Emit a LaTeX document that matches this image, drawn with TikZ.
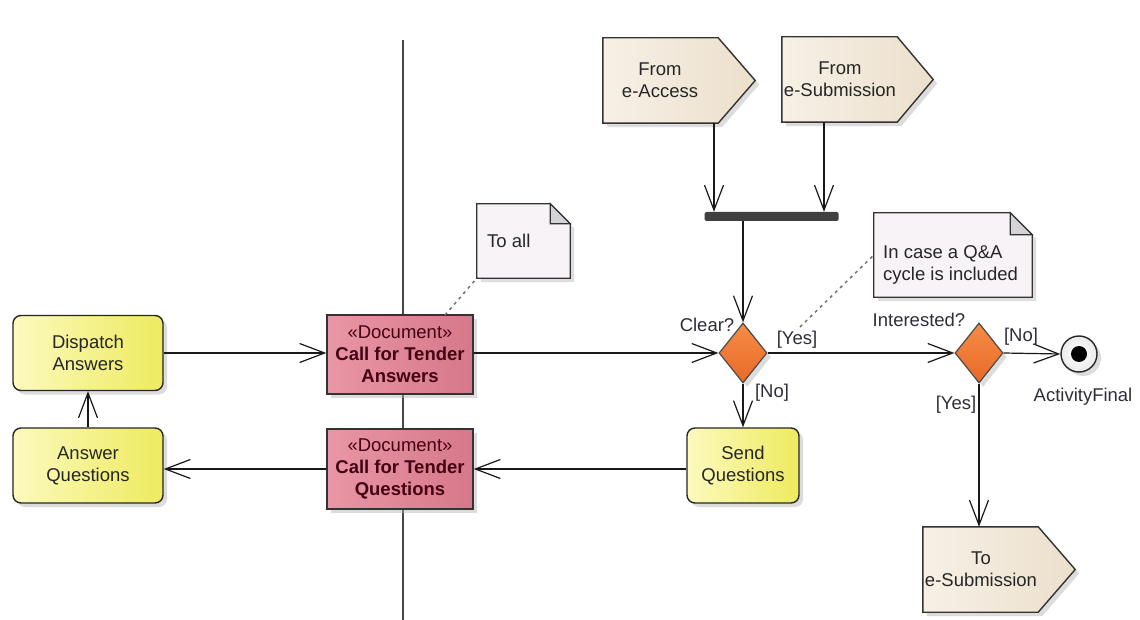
\documentclass[tikz,border=0pt]{standalone}
\usepackage{fontspec}
\setmainfont{Liberation Sans}
\usetikzlibrary{arrows.meta,shadows,shapes.geometric}
\definecolor{yelA}{RGB}{252,250,190}
\definecolor{yelB}{RGB}{238,234,95}
\definecolor{pinkA}{RGB}{232,150,165}
\definecolor{pinkB}{RGB}{214,120,138}
\definecolor{maroon}{RGB}{70,0,20}
\definecolor{orangeA}{RGB}{246,140,70}
\definecolor{orangeB}{RGB}{232,105,40}
\definecolor{beigeA}{RGB}{246,240,230}
\definecolor{beigeB}{RGB}{236,224,204}
\definecolor{noteFill}{RGB}{247,243,247}
\definecolor{foldFill}{RGB}{212,212,216}
\definecolor{lblCol}{RGB}{45,45,60}
\definecolor{laneCol}{RGB}{70,70,70}
\begin{document}
\begin{tikzpicture}[x=1pt,y=-1pt]
\tikzset{
  txt/.style={font=\fontsize{18.5}{22}\selectfont, align=center, text=black!85},
  shad/.style={drop shadow={shadow xshift=4pt, shadow yshift=-4pt, fill=black!30, opacity=0.45}},
  action/.style={txt, shad, draw=black!85, line width=1.4pt, rounded corners=8pt,
     left color=yelA, right color=yelB, minimum width=150pt, minimum height=75pt, inner sep=0pt},
  docbox/.style={txt, shad, draw=black!80, line width=1.4pt, text=maroon,
     left color=pinkA, right color=pinkB, minimum width=146pt, minimum height=80pt, inner sep=0pt},
  decision/.style={diamond, shad, draw=black!70, line width=1.2pt, top color=orangeA, bottom color=orangeB,
     minimum width=48pt, minimum height=60pt, inner sep=0pt, shape aspect=0.8},
  flow/.style={line width=1.2pt, draw=black!90, -{Straight Barb[length=25pt,width=19pt,line width=1.2pt]}},
  lbl/.style={font=\fontsize{18.5}{22}\selectfont, text=lblCol, inner sep=0pt},
  anchorbox/.style={draw=none, fill=none, inner sep=0pt},
  notedraw/.style={draw=black!80, line width=1.2pt, fill=noteFill},
  sigdraw/.style={draw=black!80, line width=1.4pt, left color=beigeA, right color=beigeB},
  link/.style={line width=1.5pt, draw=black!55, dash pattern=on 3pt off 4pt},
}
\useasboundingbox (0,0) rectangle (1140,620);
\fill[white] (0,0) rectangle (1140,620);

% swimlane separator
\coordinate (laneTop) at (403,40);
\coordinate (laneBot) at (403,620);
\draw[line width=2pt, laneCol] (laneTop) -- (laneBot);

% notes
\node[anchorbox, minimum width=93pt, minimum height=74pt] (toall) at (523.5,241) {};
\fill[black!25, opacity=0.5] ([xshift=4pt,yshift=-4pt]toall.north west) ++(0,0) -- ([xshift=-20pt,yshift=-4pt]toall.north east) -- ([xshift=4pt,yshift=-24pt]toall.north east) -- ([xshift=4pt,yshift=-4pt]toall.south east) -- ([xshift=4pt,yshift=-4pt]toall.south west) -- cycle;
\draw[notedraw] (toall.north west) -- ([xshift=-20pt]toall.north east) -- ([yshift=-20pt]toall.north east) -- (toall.south east) -- (toall.south west) -- cycle;
\draw[draw=black!80, line width=1.2pt, fill=foldFill] ([xshift=-20pt]toall.north east) -- ([xshift=-20pt,yshift=-20pt]toall.north east) -- ([yshift=-20pt]toall.north east) -- cycle;
\node[txt, anchor=west, inner sep=0pt] (toallT) at (487,241) {To all};

\node[anchorbox, minimum width=158pt, minimum height=84pt] (qa) at (953,255) {};
\fill[black!25, opacity=0.5] ([xshift=4pt,yshift=-4pt]qa.north west) -- ([xshift=-22pt,yshift=-4pt]qa.north east) -- ([xshift=4pt,yshift=-26pt]qa.north east) -- ([xshift=4pt,yshift=-4pt]qa.south east) -- ([xshift=4pt,yshift=-4pt]qa.south west) -- cycle;
\draw[notedraw] (qa.north west) -- ([xshift=-22pt]qa.north east) -- ([yshift=-22pt]qa.north east) -- (qa.south east) -- (qa.south west) -- cycle;
\draw[draw=black!80, line width=1.2pt, fill=foldFill] ([xshift=-22pt]qa.north east) -- ([xshift=-22pt,yshift=-22pt]qa.north east) -- ([yshift=-22pt]qa.north east) -- cycle;
\node[txt, anchor=west, align=left, inner sep=0pt] (qaT) at (883,265) {In case a Q\&A\\cycle is included};

% send / receive signals
\node[anchorbox, minimum width=152pt, minimum height=85pt] (acc) at (679,80.5) {};
\draw[sigdraw, shad] (acc.north west) -- ([xshift=-37pt]acc.north east) -- (acc.east) -- ([xshift=-37pt]acc.south east) -- (acc.south west) -- cycle;
\node[txt] (accT) at (660,80) {From\\e-Access};

\node[anchorbox, minimum width=151pt, minimum height=85pt] (sub) at (857.5,79.5) {};
\draw[sigdraw, shad] (sub.north west) -- ([xshift=-36pt]sub.north east) -- (sub.east) -- ([xshift=-36pt]sub.south east) -- (sub.south west) -- cycle;
\node[txt] (subT) at (840,79) {From\\e-Submission};

\node[anchorbox, minimum width=152pt, minimum height=85pt] (tosub) at (999,569.5) {};
\draw[sigdraw, shad] (tosub.north west) -- ([xshift=-37pt]tosub.north east) -- (tosub.east) -- ([xshift=-37pt]tosub.south east) -- (tosub.south west) -- cycle;
\node[txt] (tosubT) at (981,569) {To\\e-Submission};

% actions
\node[action] (disp) at (88,353) {Dispatch\\Answers};
\node[action] (ansq) at (88,465.5) {Answer\\Questions};
\node[action, minimum width=112pt] (sendq) at (743,465.5) {Send\\Questions};

% documents
\node[docbox, minimum height=79pt] (cfta) at (400,354.5) {«Document»\\\textbf{Call for Tender}\\\textbf{Answers}};
\node[docbox] (cftq) at (400,469) {«Document»\\\textbf{Call for Tender}\\\textbf{Questions}};

% fork bar
\node[fill=black!75, rounded corners=1.5pt, minimum width=134pt, minimum height=9pt, inner sep=0pt] (fork) at (771.5,216.5) {};

% decisions
\node[decision] (clear) at (743,353) {};
\node[decision] (inter) at (979,353) {};

% final
\node[circle, shad, draw=black!85, line width=1.4pt, inner color=white, outer color=black!8, minimum size=36pt, inner sep=0pt] (final) at (1079,354) {};
\fill[black] (final.center) circle (8pt);

% connectors
\draw[flow] (disp.east) -- (disp.east -| cfta.west);
\draw[flow] (ansq.north) -- (disp.south);
\draw[flow] (cftq.west) -- (cftq.west -| ansq.east);
\draw[flow] (cfta.east |- clear.west) -- (clear.west);
\draw[flow] (clear.east) -- (inter.west);
\draw[flow] (clear.south) -- (sendq.north);
\draw[flow] (sendq.west |- cftq.east) -- (cftq.east);
\draw[flow] (inter.east) -- (final.west);
\draw[flow] (inter.south) -- (inter.south |- tosub.north);
\draw[flow] (fork.south -| clear.north) -- (clear.north);
\coordinate (accB) at (714,123);
\coordinate (subB) at (824,122);
\draw[flow] (accB) -- (accB |- fork.north);
\draw[flow] (subB) -- (subB |- fork.north);

% dotted links to notes
\coordinate (linkA) at (445,315);
\draw[link] (linkA) -- (toall.south west);
\coordinate (linkB) at (800,327);
\draw[link] (linkB) -- (qa.west);

% labels
\node[lbl] (lClear) at (707,325) {Clear?};
\node[lbl] (lYes1) at (797,340) {[Yes]};
\node[lbl] (lNo1) at (772,393) {[No]};
\node[lbl] (lInt) at (919,320) {Interested?};
\node[lbl] (lNo2) at (1021,337) {[No]};
\node[lbl] (lYes2) at (956,405) {[Yes]};
\node[lbl] (lFinal) at (1083,397) {ActivityFinal};
\end{tikzpicture}
\end{document}
